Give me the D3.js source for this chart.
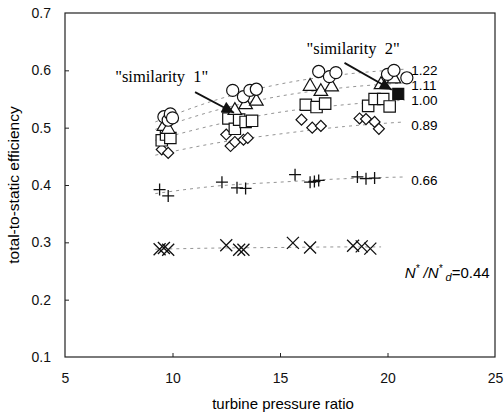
<!DOCTYPE html>
<html lang="en">
<head>
  <meta charset="UTF-8">
  <title>Efficiency vs pressure ratio</title>
  <script src="https://d3js.org/d3.v7.min.js"></script>
  <style>
    body { margin: 0; background: #fff; }
    svg { font-family: "Liberation Sans", Arial, sans-serif; }
    .axis text { font-size: 14px; fill: #111; }
    .axis line { stroke: #222; }
    .trend { fill: none; stroke: #888; stroke-width: 0.9; stroke-dasharray: 3,4; }
    .mark { fill: #fff; stroke: #111; stroke-width: 1.2; }
  </style>
</head>
<body>
  <svg width="504" height="416"></svg>

  <script>
    // speed ratio N*/N*d of each family
    const seriesNames = ["1.22", "1.11", "1.00", "0.89", "0.66", "0.44"];
    const xTicks = [5, 10, 15, 20, 25];
    const yTicks = [0.1, 0.2, 0.3, 0.4, 0.5, 0.6, 0.7];

    // measured points [pressure ratio, efficiency]
    const circles122 = [[9.6,0.519],[9.8,0.513],[9.9,0.524],[10.0,0.517],[12.8,0.565],[13.3,0.554],[13.6,0.565],[13.9,0.567],
                        [16.8,0.598],[17.3,0.589],[17.6,0.596],[20.0,0.593],[20.3,0.600],[20.9,0.587]];
    const tri111 = [[9.6,0.502],[9.8,0.497],[12.9,0.530],[13.4,0.540],[13.9,0.546],[16.4,0.572],[16.9,0.563],[17.4,0.571],
                    [19.7,0.575],[20.3,0.585]];
    const sq100 = [[9.5,0.478],[9.7,0.488],[9.9,0.482],[12.6,0.516],[12.9,0.498],[13.1,0.514],[13.4,0.510],[13.7,0.512],
                   [16.2,0.540],[16.7,0.536],[17.1,0.542],[19.1,0.538],[19.4,0.550],[19.8,0.550],[20.1,0.537]];
    const sqFilled = [[20.5,0.559]];
    const dia089 = [[9.5,0.462],[9.8,0.456],[12.5,0.488],[12.7,0.468],[12.9,0.475],[13.3,0.479],[13.5,0.482],
                    [16.0,0.514],[16.5,0.500],[16.9,0.503],[18.7,0.516],[19.0,0.515],[19.4,0.510],[19.6,0.498]];
    const plus066 = [[9.4,0.392],[9.8,0.381],[12.3,0.405],[13.0,0.395],[13.4,0.394],[15.7,0.418],[16.4,0.405],
                     [16.6,0.406],[16.8,0.408],[18.6,0.414],[19.0,0.411],[19.4,0.412]];
    const cross044 = [[9.4,0.288],[9.6,0.290],[9.8,0.287],[12.5,0.295],[13.1,0.287],[13.3,0.287],[15.6,0.299],
                      [16.4,0.291],[18.4,0.294],[18.8,0.293],[19.2,0.289]];

    // dotted fitted curves
    const trendX = [9.2, 12, 15, 18, 20.8];
    const trend122 = [0.510, 0.548, 0.576, 0.593, 0.602];
    const trend111 = [0.497, 0.530, 0.555, 0.570, 0.578];
    const trend100 = [0.478, 0.505, 0.527, 0.540, 0.548];
    const trend089 = [0.452, 0.473, 0.489, 0.502, 0.510];
    const trend066 = [0.385, 0.398, 0.405, 0.411, 0.414];
    const trend044X = [9.2, 12, 15, 18, 19.7];
    const trend044 = [0.288, 0.290, 0.291, 0.292, 0.292];

    // where the N* labels sit (efficiency)
    const labelY = [0.600, 0.574, 0.547, 0.505, 0.409];

    const svg = d3.select("svg"),
          margin = {top: 13, right: 9, bottom: 59, left: 65},
          width = +svg.attr("width") - margin.left - margin.right,
          height = +svg.attr("height") - margin.top - margin.bottom;

    const g = svg.append("g").attr("transform", `translate(${margin.left},${margin.top})`);

    const x = d3.scaleLinear().domain([5, 25]).range([0, width]);
    const y = d3.scaleLinear().domain([0.1, 0.7]).range([height, 0]);

    // Axes (ticks point inwards)
    g.append("g")
      .attr("class", "axis")
      .attr("transform", `translate(0,${height})`)
      .call(d3.axisBottom(x).tickValues(xTicks).tickSize(-4).tickPadding(16).tickFormat(d3.format("d")))
      .call(a => a.select(".domain").remove());

    g.append("g")
      .attr("class", "axis")
      .call(d3.axisLeft(y).tickValues(yTicks).tickSize(-4).tickPadding(14).tickFormat(d3.format(".1f")))
      .call(a => a.select(".domain").remove());

    g.selectAll(".axis .tick line").filter(d => d === 5 || d === 25 || d === 0.1 || d === 0.7).remove();

    g.append("rect")
      .attr("width", width).attr("height", height)
      .attr("fill", "none").attr("stroke", "#222").attr("stroke-width", 1.2);

    // Axis titles
    svg.append("text")
      .attr("x", 283).attr("y", 409)
      .attr("text-anchor", "middle")
      .attr("font-size", 15)
      .text("turbine pressure ratio");

    svg.append("text")
      .attr("transform", "translate(19,185) rotate(-90)")
      .attr("text-anchor", "middle")
      .attr("font-size", 15.5)
      .text("total-to-static efficiency");

    // Trend curves
    const line = d3.line().x(d => x(d[0])).y(d => y(d[1])).curve(d3.curveMonotoneX);
    const trends = [trend122, trend111, trend100, trend089, trend066];
    trends.forEach(t => {
      g.append("path").attr("class", "trend").attr("d", line(trendX.map((v, i) => [v, t[i]])));
    });
    g.append("path").attr("class", "trend").attr("d", line(trend044X.map((v, i) => [v, trend044[i]])));

    // Markers
    const mk = (data, sym, size, rot = 0) =>
      g.selectAll(null).data(data).enter().append("path")
        .attr("class", "mark")
        .attr("d", d3.symbol().type(sym).size(size))
        .attr("transform", d => `translate(${x(d[0])},${y(d[1])}) rotate(${rot})`);

    mk(dia089, d3.symbolSquare, 60, 45);
    mk(sq100, d3.symbolSquare, 130);
    mk(tri111, d3.symbolTriangle, 80);
    mk(circles122, d3.symbolCircle, 115);
    mk(sqFilled, d3.symbolSquare, 120).style("fill", "#111");

    g.selectAll(null).data(plus066).enter().append("path")
      .attr("d", "M-6,0H6M0,-6V6")
      .attr("stroke", "#111").attr("stroke-width", 1.3)
      .attr("transform", d => `translate(${x(d[0])},${y(d[1])})`);
    g.selectAll(null).data(cross044).enter().append("path")
      .attr("d", "M-6,-6L6,6M6,-6L-6,6")
      .attr("stroke", "#111").attr("stroke-width", 1.3)
      .attr("transform", d => `translate(${x(d[0])},${y(d[1])})`);

    // Series labels
    g.selectAll(null).data(labelY).enter().append("text")
      .attr("x", x(21.1))
      .attr("y", d => y(d))
      .attr("dy", "0.35em")
      .attr("font-size", 13.5)
      .text((d, i) => seriesNames[i]);

    const nt = g.append("text")
      .attr("x", x(24.75)).attr("y", y(0.247)).attr("dy", "0.35em")
      .attr("text-anchor", "end").attr("font-size", 15).attr("font-style", "italic");
    nt.append("tspan").text("N");
    nt.append("tspan").attr("dy", "-6").attr("font-size", 10).text("*");
    nt.append("tspan").attr("dy", "6").text(" /N");
    nt.append("tspan").attr("dy", "-6").attr("font-size", 10).text("*");
    nt.append("tspan").attr("dy", "9").attr("font-size", 11).text(" d");
    nt.append("tspan").attr("dy", "-3").attr("font-style", "normal").text("=" + seriesNames[5]);

    // Annotations
    svg.append("defs").append("marker")
      .attr("id", "head").attr("viewBox", "0 -5 10 10")
      .attr("refX", 10).attr("refY", 0)
      .attr("markerWidth", 13).attr("markerHeight", 12)
      .attr("markerUnits", "userSpaceOnUse")
      .attr("orient", "auto")
      .append("path").attr("d", "M0,-5L10,0L0,5Z").attr("fill", "#111");

    const notes = [
      {text: "\"similarity  1\"", tx: 9.5, ty: 0.589, from: [11.05, 0.562], to: [12.86, 0.526]},
      {text: "\"similarity  2\"", tx: 18.4, ty: 0.639, from: [18.0, 0.613], to: [20.2, 0.566]}
    ];
    notes.forEach(n => {
      g.append("text")
        .attr("x", x(n.tx)).attr("y", y(n.ty)).attr("dy", "0.35em")
        .attr("text-anchor", "middle")
        .attr("font-family", "'Liberation Serif', 'Times New Roman', serif")
        .attr("font-size", 16.5)
        .style("white-space", "pre")
        .text(n.text);
      g.append("line")
        .attr("x1", x(n.from[0])).attr("y1", y(n.from[1]))
        .attr("x2", x(n.to[0])).attr("y2", y(n.to[1]))
        .attr("stroke", "#111").attr("stroke-width", 1.8)
        .attr("marker-end", "url(#head)");
    });
  </script>
</body>
</html>
